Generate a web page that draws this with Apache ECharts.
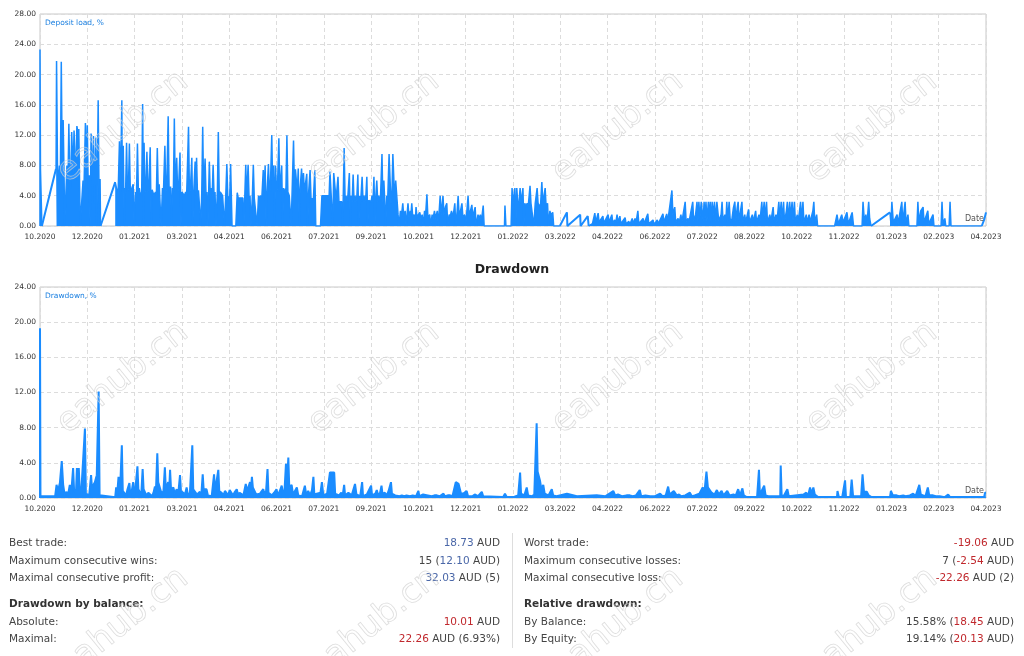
<!DOCTYPE html>
<html><head><meta charset="utf-8">
<script src="https://cdn.jsdelivr.net/npm/echarts@6/dist/echarts.min.js"></script>
<style>html,body{margin:0;padding:0;background:#fff}#c{width:1024px;height:656px}</style>
</head><body><div id="c"></div>
<script>
// ---------- data ----------
const xLabelsLoad = ['10.2020','12.2020','01.2021','03.2021','04.2021','06.2021','07.2021','09.2021','10.2021','12.2021','01.2022','03.2022','04.2022','06.2022','07.2022','08.2022','10.2022','11.2022','01.2023','02.2023','04.2023'];
const xLabelsDrawdown = ['10.2020','12.2020','01.2021','03.2021','04.2021','06.2021','07.2021','09.2021','10.2021','12.2021','01.2022','03.2022','04.2022','06.2022','07.2022','09.2022','10.2022','11.2022','01.2023','02.2023','04.2023'];
const loadYMax = 28, ddYMax = 24, yStep = 4;
const xMax = 200, xStep = 10;

// deposit load, dense trading stretches ('-' separates stretches)
const depositLoad = [
[0,0],[0,23.3],[0.1,7.5],[0.3,7.5],[0.4,0],[0.45,'-'],
[3.4,7.6],[3.5,21.8],[3.7,7.5],[3.9,6],[4.1,8],[4.3,6],[4.5,21.7],[4.7,8],[4.9,14],[5.1,6],[5.2,0],[5.6,0],[5.7,8],[5.9,5],[6.1,13.5],[6.3,6],[6.5,5],[6.7,12.4],[6.9,12.6],[7.0,7],[7.2,12.6],[7.4,12.8],[7.5,6],[7.8,13.2],[7.9,12.8],[8.0,6],[8.2,12.8],[8.3,12.6],[8.5,0],[8.9,0],[9.1,6],[9.3,5],[9.6,13.6],[9.8,6],[10.0,13.3],[10.2,5],[10.4,6.7],[10.6,0],[10.8,12.2],[11.0,12.0],[11.1,5],[11.3,11.9],[11.5,3],[11.8,11.7],[12.0,0],[12.3,16.6],[12.5,3],[12.7,6.2],[12.8,0],[12.85,'-'],
[15.9,5.8],[16.3,5.8],[16.5,4],[16.8,11.2],[17.0,4.5],[17.3,16.6],[17.4,5],[17.6,10.6],[17.8,0],[18.0,5],[18.1,4.5],[18.3,11.0],[18.5,4.5],[18.7,5],[18.9,10.9],[19.1,4.5],[19.4,5],[19.7,5.5],[19.9,0],[20.2,4.5],[20.4,4],[20.6,10.9],[20.8,4.5],[21.0,5],[21.2,4],[21.5,4.5],[21.7,16.1],[21.9,0],[22.0,11.0],[22.2,4.5],[22.4,5],[22.6,9.8],[22.8,4.5],[23.0,5],[23.3,10.4],[23.5,0],[23.7,4.8],[23.9,4.8],[24.1,4],[24.4,4.5],[24.6,4],[24.8,10.3],[25.0,4.5],[25.2,5.5],[25.4,5.5],[25.6,0],[25.9,5],[26.1,4.5],[26.4,10.6],[26.6,4.5],[26.8,5],[27.1,14.5],[27.3,4.5],[27.6,5.2],[27.8,0],[28.0,5],[28.2,4.5],[28.4,14.2],[28.6,4.5],[28.9,9.0],[29.1,4.5],[29.3,5],[29.6,9.7],[29.8,0],[30.0,4.5],[30.3,4.3],[30.5,4],[30.8,4.5],[31.0,4],[31.4,13.1],[31.6,4],[31.8,5],[32.1,9.0],[32.3,0],[32.5,4.5],[32.8,8.5],[33.0,4],[33.1,9.0],[33.3,4],[33.5,4.7],[33.8,4.7],[34.0,0],[34.2,4.5],[34.4,13.1],[34.6,4],[34.9,8.9],[35.1,4],[35.3,4.5],[35.5,0],[35.8,8.5],[36.0,4],[36.2,5],[36.4,4],[36.6,8.1],[36.8,4],[37.0,4.5],[37.2,0],[37.5,4.5],[37.7,12.4],[37.9,4],[38.1,4.5],[38.4,4.5],[38.6,4],[38.8,4],[39.0,0],[39.3,4.5],[39.5,8.2],[39.7,4],[39.9,4],[40.1,3.5],[40.3,8.2],[40.6,0],[41.4,0],[41.7,4.4],[41.9,3.7],[42.1,3.7],[42.9,3.7],[43.1,0],[43.3,4],[43.5,8.1],[43.7,3.7],[44.0,8.1],[44.2,3.7],[44.4,4],[44.6,0],[44.9,4],[45.1,8.1],[45.3,3.7],[45.5,3.7],[45.7,3.7],[45.9,0],[46.2,4],[46.4,3.7],[46.7,4],[46.9,3.7],
[47.2,7.4],[47.4,4.5],[47.6,8.0],[47.8,0],[48.0,4.5],[48.3,8.2],[48.5,4.5],[48.7,5],[49.0,12.0],[49.2,4.5],[49.4,8],[49.6,0],[49.8,8.0],[50.0,4.5],[50.2,5],[50.5,11.6],[50.7,4.5],[51.1,8.0],[51.3,0],[51.5,5],[51.7,4.5],[52.0,5],[52.2,12.0],[52.4,4.5],[52.7,4],[52.9,4.0],[53.1,0],[53.3,4.5],[53.6,11.3],[53.8,4.5],[54.0,7.5],[54.2,7.5],[54.4,4.5],[54.6,7.6],[54.8,0],[55.0,5],[55.3,7.6],[55.5,4.5],[55.7,7],[55.9,4.5],[56.1,4.5],[56.4,6.9],[56.6,0],[56.8,4.5],[57.1,7.4],[57.3,3.6],[57.6,3.6],[57.8,3.6],[58.0,3.6],[58.1,7.4],[58.3,0],[59.3,0],[59.6,4.0],[61.0,4.0],[61.1,3.5],[61.3,7.2],[61.7,7.2],[61.9,0],[62.1,7.0],[62.4,7.2],[62.6,3.5],[63.0,6.5],[63.2,3.2],[63.5,3.2],[63.8,3.2],[64.0,0],[64.3,10.3],[64.5,3.5],[64.7,4],[64.9,3.2],[65.1,4],[65.4,7.0],[65.6,0],[65.8,4],[66.0,3.2],[66.2,6.8],[66.4,3.2],[66.6,4],[66.8,3.2],[67.0,4],[67.2,6.8],[67.4,0],[67.6,4],[67.8,3.2],[68.1,6.5],[68.3,3.2],[68.5,4],[68.7,3.2],[68.9,4],[69.1,6.5],[69.3,0],[69.5,3.4],[69.8,3.4],[70.0,3.2],[70.2,4],[70.4,3.2],[70.6,6.5],[70.8,0],[71.0,4],[71.2,6.0],[71.4,3.2],[71.6,4],[71.8,3.2],[72.0,4],[72.3,9.5],[72.5,3],[72.7,6.0],[72.9,6.0],[73.1,0],[73.3,4],[73.5,3.2],[73.8,9.5],[74.0,9.5],[74.2,3],[74.4,4],[74.6,9.5],[74.8,9.5],[75.0,3],[75.2,6.0],[75.5,6.0],[75.7,1.5],[75.9,0],
[76.2,2.0],[76.4,1.2],[76.7,3.0],[76.9,1.2],[77.2,2.0],[77.4,0],[77.8,3.0],[78.0,1.2],[78.3,2.0],[78.4,1.2],[78.6,3.0],[78.8,1.2],[79.1,1.5],[79.3,0],[79.5,2.5],[79.7,1.2],[80.0,1.5],[80.3,1.8],[80.5,1.0],[80.8,1.5],[81.0,0],[81.3,2],[81.5,1.2],[81.8,4.2],[82.0,1.2],[82.4,1.5],[82.6,0],[82.9,1.5],[83.1,1.0],[83.4,2.0],[83.6,1.0],[84.0,2.0],[84.2,0],[84.6,4.0],[84.8,1.5],[85.2,4.0],[85.4,1.5],[85.7,2.5],[86.0,3.0],[86.2,0],[86.5,1.5],[86.7,1.2],[87.0,2.0],[87.2,1.2],[87.5,2],[87.7,3.0],[87.9,0],[88.2,2],[88.4,4.0],[88.6,1.5],[88.9,2],[89.2,3.0],[89.4,1.2],[89.8,1.5],[90.0,0],[90.5,4.0],[90.7,1.5],[91.0,2],[91.3,2.8],[91.5,1.2],[91.8,2],[92.0,2.5],[92.2,0],[92.6,1.5],[92.8,1.0],[93.1,1.5],[93.3,0.5],[93.7,2.7],[93.9,0],
[98.2,0],[98.3,2.7],[98.5,0],[99.6,0],
[99.8,5.0],[100.0,3],[100.4,5.0],[100.6,0],[100.8,5.0],[101.0,3],[101.2,2.5],[101.5,5.0],[101.7,3],[102.1,5.0],[102.3,0],[102.5,3.0],[102.7,2.5],[103.0,3],[103.2,2.5],[103.6,5.3],[103.8,3],[104.2,3.0],[104.4,0],[104.7,3],[105.1,5.0],[105.3,3],[105.6,3],[105.8,2.5],[106.1,5.8],[106.3,3],[106.8,5.0],[107.0,2.5],[107.3,3.0],[107.5,0],[107.8,2.0],[108.0,1.5],[108.4,1.8],[108.6,0],[109.9,0],[109.95,'-'],
[116.0,0],[116.8,0.3],[117.3,1.7],[117.5,0.5],[118.0,1.7],[118.2,0.5],[119.0,1.3],[119.2,0.4],[120.1,1.5],[120.3,0.5],[120.9,1.5],[121.1,0.4],[121.5,0.8],[121.7,0.3],[122.0,1.5],[122.2,0.5],[122.6,1.3],[122.8,0.3],[123.7,1.1],[123.9,0.3],[124.5,0.6],[124.7,0.2],[125.2,1.0],[125.4,0.3],[125.8,1.0],[126.0,0.4],[126.4,2.0],[126.6,0.3],[127.5,1.0],[127.7,0.3],[128.5,1.6],[128.7,0.3],[129.6,0.8],[129.8,0.2],[130.5,0.8],[130.7,0.3],[131.7,1.6],[131.9,0.5],[132.5,1.6],[132.7,0.5],[133.6,4.7],[133.8,1.5],[134.2,2.5],[134.4,0.5],[134.9,1.0],[135.1,0.4],[135.5,1.5],[135.7,0.5],[136.4,3.2],[136.6,0.6],[137.0,1.0],[137.2,0.5],
[138.0,3.2],[138.2,0.7],[138.6,1.5],[138.9,3.2],[139.1,0.7],[139.3,3.2],[139.5,1.0],[139.8,3.2],[140.0,3.2],[140.2,0.7],[140.4,3.2],[140.6,1.0],[140.8,3.2],[141.0,0.7],[141.3,3.2],[141.5,1.0],[141.7,3.2],[141.9,0],[142.1,3.2],[142.3,1.5],[142.6,3.2],[142.8,0.7],[143.1,3.2],[143.3,3.2],[143.5,0.7],[144.0,1.5],[144.2,3.2],[144.4,0.7],[144.8,1.5],[145.0,0.5],[145.2,3.2],[145.4,0.7],[145.7,3.2],[145.9,1.0],[146.2,0.5],[146.6,2.4],[146.9,3.2],[147.1,0.7],[147.4,2.4],[147.6,3.2],[147.8,0.5],[148.1,2.0],[148.4,3.2],[148.6,0.5],[149.0,1.5],[149.2,0.5],[149.8,2.2],[150.0,0.5],[150.6,1.5],[150.8,0.5],[151.3,2.0],[151.5,0.5],[152.0,1.5],[152.2,0.5],[152.6,3.2],[152.8,1.0],[153.1,3.2],[153.3,1.0],[153.6,3.2],[153.8,0.5],[154.3,1.5],[154.5,0.5],[155.0,2.5],[155.2,0.5],[155.6,1.5],[155.8,0.5],[156.2,3.2],[156.4,1.0],[156.7,3.2],[156.9,0.7],[157.2,3.2],[157.4,0.5],[157.8,2.0],[158.0,3.2],[158.2,0.7],[158.5,3.2],[158.7,1.0],[159.0,3.2],[159.2,0.7],[159.5,3.2],[159.7,0.5],[160.1,1.5],[160.3,0.5],[160.8,3.2],[161.0,0.7],[161.3,3.2],[161.5,0.5],[162.0,1.5],[162.2,0.5],[162.6,1.5],[162.8,0.5],[163.4,2.0],[163.6,3.2],[163.8,0.5],[164.2,1.5],[164.4,0],
[168.0,0],[168.5,1.5],[168.8,0.3],[169.5,1.5],[169.8,0.5],[170.6,1.8],[170.9,0.3],[171.7,1.8],[172.0,0],[173.8,0],[174.0,3.2],[174.3,0.5],[174.6,1.5],[174.8,0],[175.2,3.2],[175.4,1.0],[175.7,0],[175.75,'-'],
[179.7,1.8],[179.9,0.3],[180.1,3.2],[180.4,0.5],[181.2,1.5],[181.4,0.3],[182.2,3.2],[182.4,0.5],[182.9,3.2],[183.1,0.3],[183.5,1.5],[183.7,0],[185.4,0],[185.6,3.2],[185.8,0.5],[186.2,2],[186.7,2.5],[186.9,0.5],[187.7,2.0],[187.9,0.3],[188.8,1.5],[189.0,0],[190.5,0],[190.7,3.2],[190.9,0.3],[191.3,1.0],[191.5,0],[192.2,0],[192.4,3.2],[192.6,0],[199.1,0]
];
// deposit load, idle stretches drawn as plain connecting lines
const depositLoadLinks = [
[0.4,0],[3.4,7.6],[3.45,'-'],
[12.8,0],[15.9,5.8],[15.95,'-'],
[109.9,0],[111.4,1.8],[111.5,0],[114.2,1.5],[114.3,0],[115.8,1.3],[116.0,0],[116.05,'-'],
[175.7,0],[179.7,1.8],[179.75,'-'],
[199.1,0],[199.6,0.8],[200,1.8]
];

const drawdown = [
[0,0],[0,19.3],[0.1,0.2],[3.2,0.2],[3.5,1.5],[3.8,0.8],[4.2,1.7],[4.6,4.2],[4.9,1.5],[5.2,0.4],[5.6,0.7],[5.9,0.3],[6.3,1.5],[6.6,0.5],[7.0,3.4],[7.2,1.0],[7.4,1.0],[7.6,0.5],[7.8,3.4],[8.0,1.5],[8.2,3.4],[8.4,0.8],[8.7,0.5],[9.1,0.3],[9.5,7.9],[9.7,0.5],[10.0,0.5],[10.4,0.3],[10.8,2.6],[11.0,1.0],[11.3,1.5],[11.6,1.8],[12.0,2.6],[12.4,12.1],[12.6,0.3],[12.8,0.1],[15.9,0.1],[16.1,1.2],[16.3,0.3],[16.6,2.4],[16.9,0.5],[17.3,6.0],[17.5,0.8],[17.8,0.8],[18.2,0.3],[18.5,1.0],[18.9,1.7],[19.1,0.3],[19.4,0.8],[19.7,1.8],[19.9,0.5],[20.2,1.2],[20.6,3.6],[20.8,1.0],[21.1,1.0],[21.4,0.3],[21.7,3.3],[21.9,1.0],[22.2,1.0],[22.5,0.3],[22.9,0.6],[23.3,0.4],[23.7,0.2],[24.0,0.6],[24.3,1.3],[24.5,0.6],[24.8,5.1],[25.0,1.8],[25.4,1.8],[25.7,0.5],[26.1,0.8],[26.4,3.5],[26.6,1.0],[27.1,1.8],[27.3,0.8],[27.5,3.2],[27.7,1.0],[28.2,1.2],[28.5,0.5],[28.9,1.0],[29.2,0.3],[29.6,2.6],[29.8,0.8],[30.3,0.6],[30.6,0.3],[31.0,1.2],[31.3,0.3],[31.7,0.6],[32.0,0.4],[32.2,6.0],[32.4,1.0],[32.8,1.0],[33.2,0.4],[33.8,0.7],[34.1,0.3],[34.4,2.7],[34.6,1.0],[35.2,1.0],[35.5,0.3],[35.9,0.5],[36.3,0.2],[36.8,2.7],[37.0,0.8],[37.3,1.0],[37.7,3.2],[37.9,0.8],[38.4,0.6],[38.8,0.3],[39.1,0.8],[39.5,1.0],[39.8,0.3],[40.1,0.9],[40.5,1.1],[40.8,0.3],[41.2,0.7],[41.6,1.0],[41.9,0.3],[42.2,0.6],[42.6,0.8],[43.0,0.3],[43.5,1.6],[43.8,0.8],[44.4,1.8],[44.6,1.0],[44.8,2.4],[45.0,1.2],[45.4,1.2],[45.7,0.4],[46.1,0.6],[46.5,0.5],[46.9,0.3],[47.2,1.0],[47.5,0.4],[47.8,0.8],[48.1,3.3],[48.3,0.6],[48.6,0.6],[49.0,0.3],[49.5,0.6],[50.0,1.0],[50.3,0.3],[50.7,0.8],[51.1,1.4],[51.4,0.5],[51.7,0.9],[52.0,3.9],[52.2,1.5],[52.5,4.6],[52.7,1.2],[53.2,1.5],[53.5,0.4],[53.9,0.8],[54.3,1.2],[54.6,0.3],[55.0,0.5],[55.4,0.2],[56.0,1.4],[56.3,0.3],[56.7,0.8],[57.1,0.3],[57.5,0.9],[57.8,2.4],[58.0,0.4],[58.5,0.5],[58.9,0.3],[59.3,0.6],[59.6,1.8],[59.9,0.3],[60.3,0.3],[60.7,0.5],[61.1,0.3],[61.3,2.9],[62.2,2.9],[62.4,0.5],[62.7,0.5],[63.2,0.3],[63.7,0.6],[64.0,0.3],[64.3,1.5],[64.5,0.3],[64.8,0.3],[65.2,0.6],[65.5,0.8],[65.9,0.3],[66.2,0.5],[66.6,1.6],[66.9,0.4],[67.3,0.4],[67.7,0.2],[68.1,1.8],[68.3,0.2],[68.7,0.2],[69.1,0.4],[69.5,0.2],[70.0,1.4],[70.2,0.3],[70.5,0.3],[70.9,0.5],[71.2,0.9],[71.5,0.3],[71.9,0.6],[72.2,1.4],[72.4,0.5],[72.9,0.6],[73.3,0.3],[73.7,0.8],[74.2,1.8],[74.4,0.5],[74.7,0.5],[75.1,0.3],[75.4,0.3],[76.0,0.2],[76.5,0.3],[77.0,0.2],[77.5,0.3],[78.2,0.2],[78.8,0.3],[79.5,0.2],[80.0,0.8],[80.2,0.2],[80.6,0.3],[81.0,0.4],[81.4,0.2],[82.0,0.3],[82.4,0.5],[82.8,0.2],[83.4,0.3],[83.9,0.3],[84.5,0.2],[85.3,0.5],[85.6,0.2],[86.2,0.3],[86.7,0.3],[87.2,0.2],[87.6,0.3],[87.9,1.8],[88.5,1.6],[88.8,1.6],[89.0,0.5],[89.5,0.5],[89.9,0.3],[90.2,0.8],[90.5,0.2],[90.9,0.3],[91.4,0.2],[91.9,0.4],[92.3,0.6],[92.6,0.2],[93.0,0.3],[93.4,0.7],[93.7,0.2],[94.1,0.1],[97.9,0.1],[98.3,0.5],[98.7,0.1],[99.3,0.1],[99.7,0.3],[100.1,0.1],[100.6,0.2],[101.1,0.3],[101.5,2.9],[101.7,0.5],[102.0,0.4],[102.4,0.3],[102.9,1.2],[103.2,0.3],[103.6,0.3],[104.0,0.2],[104.5,0.4],[105.0,8.5],[105.2,3.0],[105.7,2.0],[106.0,1.0],[106.4,1.5],[106.7,0.5],[107.0,0.5],[107.5,0.3],[108.2,1.0],[108.5,0.3],[109.2,0.2],[111.4,0.5],[113.5,0.2],[117.7,0.3],[119.5,0.2],[121.2,0.8],[121.6,0.3],[122.2,0.4],[122.6,0.5],[123.0,0.2],[124.0,0.3],[124.7,0.3],[125.3,0.2],[126.0,0.3],[126.8,0.9],[127.1,0.2],[128.0,0.3],[128.3,0.3],[129.0,0.2],[130.0,0.2],[131.1,0.5],[131.6,0.2],[132.3,0.3],[132.8,1.3],[133.1,0.4],[133.5,0.5],[134.0,0.8],[134.6,0.3],[135.1,0.4],[135.6,0.2],[136.4,0.3],[137.4,0.6],[137.8,0.2],[138.4,0.3],[138.8,0.3],[139.4,0.5],[140.1,1.2],[140.5,0.8],[140.9,3.0],[141.2,1.2],[141.5,1.2],[142.0,0.6],[142.6,0.4],[143.1,0.9],[143.5,0.4],[144.1,0.8],[144.5,0.3],[145.3,0.8],[145.8,0.3],[146.6,0.4],[147.1,0.3],[147.6,1.0],[148.0,0.3],[148.5,1.1],[148.8,0.3],[149.4,0.1],[151.6,0.1],[152.0,3.2],[152.2,0.4],[152.6,0.4],[153.1,1.4],[153.4,0.3],[154.0,0.2],[156.5,0.2],[156.6,3.7],[156.8,0.2],[157.3,0.3],[158.0,1.0],[158.3,0.2],[158.5,0.1],[161.4,0.4],[162.0,0.6],[162.4,0.3],[162.8,1.2],[163.1,0.5],[163.5,1.2],[163.8,0.4],[164.2,0.4],[164.5,0.1],[168.5,0.1],[168.6,0.8],[168.9,0.1],[169.6,0.1],[170.2,2.0],[170.4,0.1],[171.3,0.1],[171.6,2.1],[171.9,0.2],[172.3,0.2],[173.6,0.2],[173.9,2.7],[174.2,0.7],[174.8,0.7],[175.2,0.3],[175.5,0.2],[175.8,0.1],[179.7,0.1],[179.9,0.8],[180.3,0.3],[181.1,0.3],[181.6,0.2],[182.5,0.3],[183.0,0.2],[183.3,0.4],[183.9,0.3],[184.6,0.5],[185.1,0.2],[185.9,1.5],[186.2,0.4],[186.7,0.3],[187.2,0.2],[187.7,1.2],[188.0,0.3],[188.8,0.3],[189.4,0.2],[190.2,0.2],[191.3,0.1],[192.0,0.4],[192.4,0.1],[199.6,0.1],[199.8,0.6],[200,0.6]
];

const statsLeft = [
  ['Best trade:', '{b|18.73} AUD'],
  ['Maximum consecutive wins:', '15 ({b|12.10} AUD)'],
  ['Maximal consecutive profit:', '{b|32.03} AUD (5)'],
  ['Drawdown by balance:', null],
  ['Absolute:', '{r|10.01} AUD'],
  ['Maximal:', '{r|22.26} AUD (6.93%)']
];
const statsRight = [
  ['Worst trade:', '{r|-19.06} AUD'],
  ['Maximum consecutive losses:', '7 ({r|-2.54} AUD)'],
  ['Maximal consecutive loss:', '{r|-22.26} AUD (2)'],
  ['Relative drawdown:', null],
  ['By Balance:', '15.58% ({r|18.45} AUD)'],
  ['By Equity:', '19.14% ({r|20.13} AUD)']
];
const watermarkText = 'eahub.cn';

// ---------- chart ----------
const FONT = 'DejaVu Sans';
const LINE = '#1a8cff';
const chart = echarts.init(document.getElementById('c'), null, {renderer: 'canvas'});

function xAxis(gi, labels) {
  return {
    type: 'value', gridIndex: gi, min: 0, max: xMax, interval: xStep,
    axisLine: {show: false}, axisTick: {show: false},
    axisLabel: {fontFamily: FONT, fontSize: 7.5, color: '#333', margin: 7,
      formatter: v => labels[Math.round(v / xStep)] || ''},
    splitLine: {show: true, lineStyle: {color: '#dcdcdc', type: [4, 3], width: 1}}
  };
}
function yAxis(gi, max) {
  return {
    type: 'value', gridIndex: gi, min: 0, max: max, interval: yStep,
    axisLine: {show: false}, axisTick: {show: false},
    axisLabel: {fontFamily: FONT, fontSize: 7.5, color: '#333', margin: 4,
      formatter: v => v.toFixed(2)},
    splitLine: {show: true, lineStyle: {color: '#dcdcdc', type: [4, 3], width: 1}}
  };
}

const graphics = [];
function txt(x, y, text, opt) {
  graphics.push({type: 'text', x: x, y: y, z: 10, silent: true,
    style: Object.assign({text: text, fontFamily: FONT, fontSize: 10.5, fill: '#444',
      align: 'left', verticalAlign: 'middle'}, opt || {})});
}
txt(45, 23, 'Deposit load, %', {fontSize: 7.5, fill: '#1a7fe0'});
txt(984, 219, 'Date', {fontSize: 8, fill: '#555', align: 'right'});
txt(45, 296, 'Drawdown, %', {fontSize: 7.5, fill: '#1a7fe0'});
txt(984, 491, 'Date', {fontSize: 8, fill: '#555', align: 'right'});
txt(512, 270, 'Drawdown', {fontSize: 12.5, fontWeight: 'bold', fill: '#222', align: 'center'});

const rowY = [543, 561, 578, 604, 622, 639];
const rich = {
  b: {fill: '#4a67a8', fontFamily: FONT, fontSize: 10.5},
  r: {fill: '#c0282d', fontFamily: FONT, fontSize: 10.5}
};
function statsCol(rows, lx, rx) {
  rows.forEach((r, i) => {
    if (r[1] === null) {
      txt(lx, rowY[i], r[0], {fontWeight: 'bold', fill: '#333'});
    } else {
      txt(lx, rowY[i], r[0], {fill: '#444'});
      txt(rx, rowY[i], r[1], {fill: '#444', align: 'right', rich: rich});
    }
  });
}
statsCol(statsLeft, 9, 500);
statsCol(statsRight, 524, 1014);
graphics.push({type: 'line', z: 5, silent: true, shape: {x1: 512.5, y1: 533, x2: 512.5, y2: 648},
  style: {stroke: '#dddddd', lineWidth: 1}});

const wmX = [123, 374, 618, 872], wmY = [127, 378, 624];
wmY.forEach(y => wmX.forEach(x => {
  graphics.push({type: 'text', x: x, y: y, rotation: 0.68, z: 100, silent: true,
    style: {text: watermarkText, fontFamily: FONT, fontSize: 34, fill: 'rgba(255,255,255,0.1)',
      stroke: 'rgba(205,205,205,0.7)', lineWidth: 0.8, align: 'center', verticalAlign: 'middle'}});
}));

chart.setOption({
  animation: false,
  backgroundColor: '#fff',
  grid: [
    {left: 40, top: 14, width: 946, height: 212, show: true, borderColor: '#c8c8c8', borderWidth: 1, backgroundColor: '#fff'},
    {left: 40, top: 287, width: 946, height: 211, show: true, borderColor: '#c8c8c8', borderWidth: 1, backgroundColor: '#fff'}
  ],
  xAxis: [xAxis(0, xLabelsLoad), xAxis(1, xLabelsDrawdown)],
  yAxis: [yAxis(0, loadYMax), yAxis(1, ddYMax)],
  series: [
    {type: 'line', xAxisIndex: 0, yAxisIndex: 0, data: depositLoad, showSymbol: false, connectNulls: false,
      lineStyle: {color: LINE, width: 1.5}, itemStyle: {color: LINE}, areaStyle: {color: LINE, opacity: 1}, clip: true},
    {type: 'line', xAxisIndex: 0, yAxisIndex: 0, data: depositLoadLinks, showSymbol: false, connectNulls: false,
      lineStyle: {color: LINE, width: 2}, itemStyle: {color: LINE}, clip: true},
    {type: 'line', xAxisIndex: 1, yAxisIndex: 1, data: drawdown, showSymbol: false,
      lineStyle: {color: LINE, width: 2}, itemStyle: {color: LINE}, areaStyle: {color: LINE, opacity: 1}, clip: true}
  ],
  graphic: graphics
});
</script>
</body></html>
